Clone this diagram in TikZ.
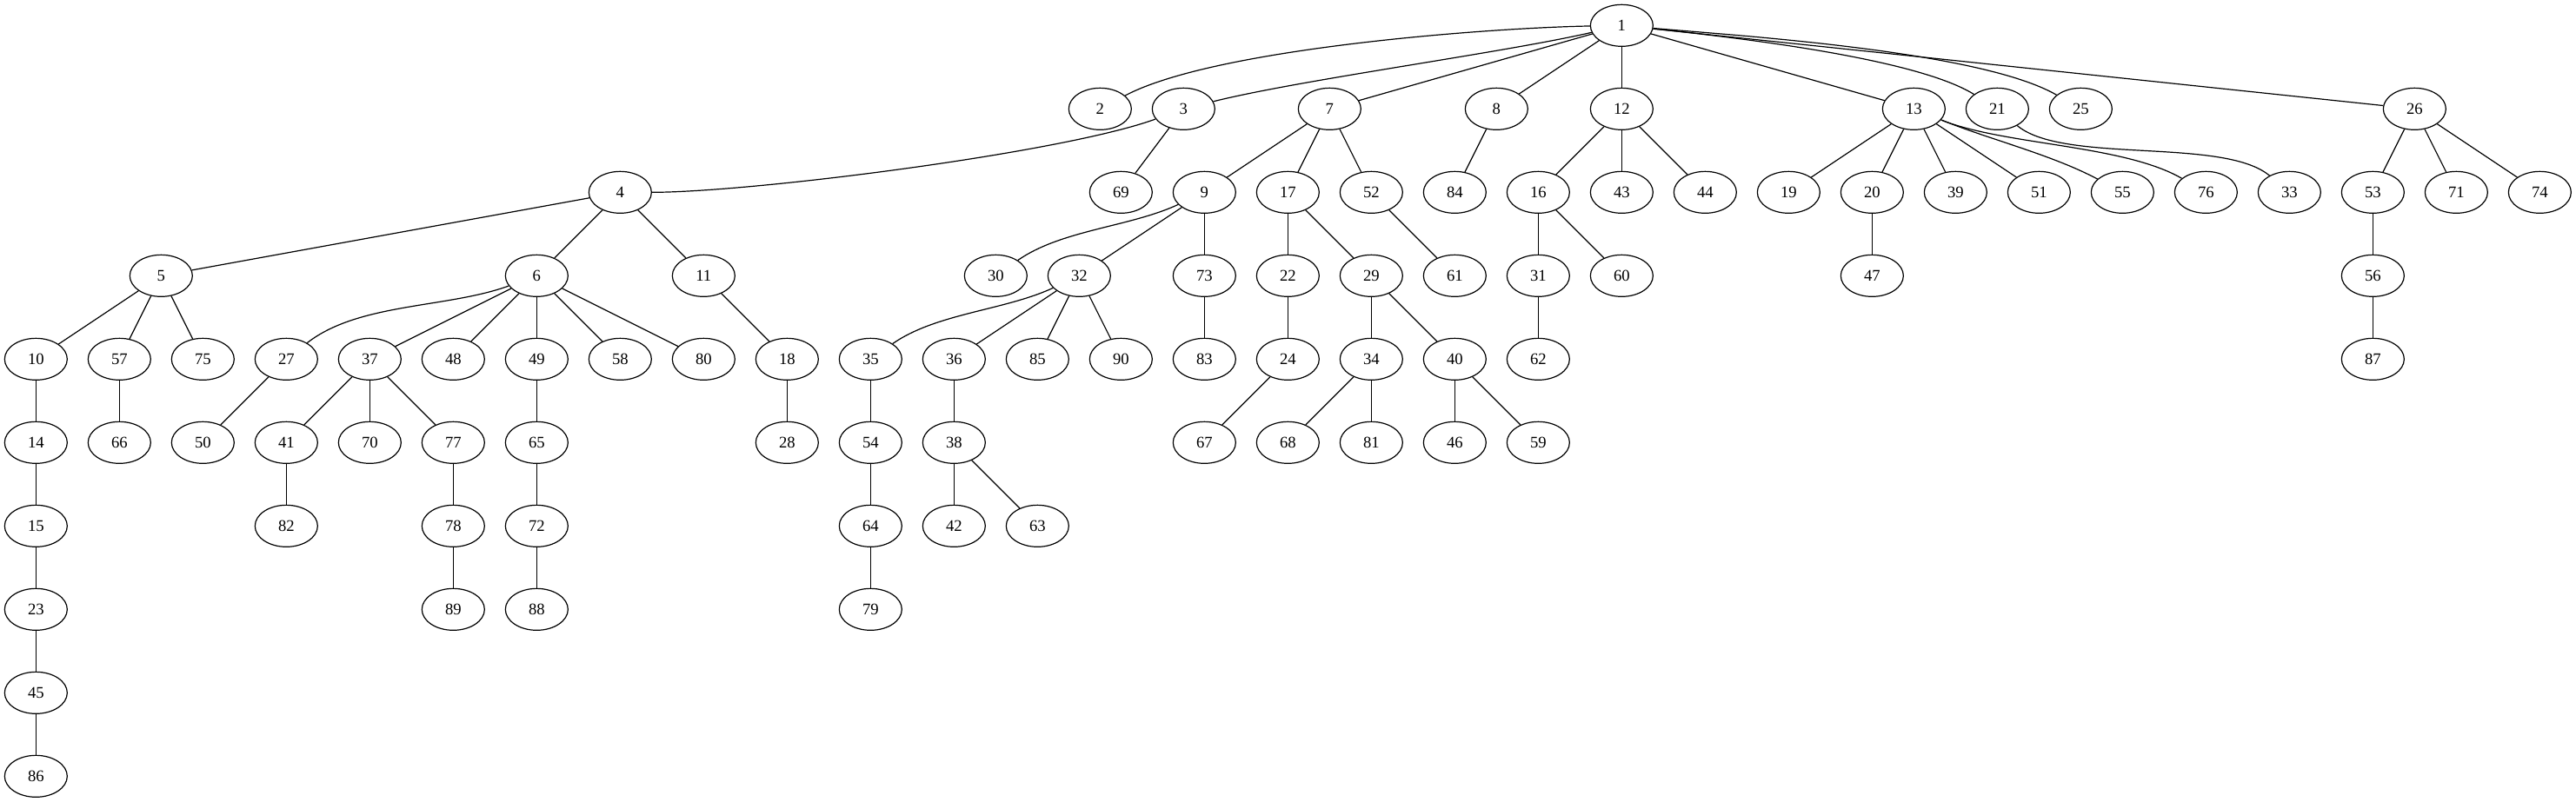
\documentclass[tikz,border=0pt]{standalone}
\usepackage{fontspec}
\setmainfont{Liberation Serif}
\usepackage{tikz}
\usetikzlibrary{shapes.geometric}

\begin{document}
\begin{tikzpicture}[x=1pt, y=1pt, line width=0.9pt,
  vertex/.style={draw, ellipse, minimum width=54pt, minimum height=36pt, inner sep=0pt, font=\fontsize{14}{16}\selectfont}]
  \useasboundingbox (0,0) rectangle (2222.25,-692.25);
  % Racine
  \node[vertex] (n1) at (1399,-22) {1};
  % Niveau 1
  \node[vertex] (n2) at (949,-94) {2};
  \node[vertex] (n3) at (1021,-94) {3};
  \node[vertex] (n7) at (1147,-94) {7};
  \node[vertex] (n8) at (1291,-94) {8};
  \node[vertex] (n12) at (1399,-94) {12};
  \node[vertex] (n13) at (1651,-94) {13};
  \node[vertex] (n21) at (1723,-94) {21};
  \node[vertex] (n25) at (1795,-94) {25};
  \node[vertex] (n26) at (2083,-94) {26};
  % Niveau 2
  \node[vertex] (n4) at (535,-166) {4};
  \node[vertex] (n69) at (967,-166) {69};
  \node[vertex] (n9) at (1039,-166) {9};
  \node[vertex] (n17) at (1111,-166) {17};
  \node[vertex] (n52) at (1183,-166) {52};
  \node[vertex] (n84) at (1255,-166) {84};
  \node[vertex] (n16) at (1327,-166) {16};
  \node[vertex] (n43) at (1399,-166) {43};
  \node[vertex] (n44) at (1471,-166) {44};
  \node[vertex] (n19) at (1543,-166) {19};
  \node[vertex] (n20) at (1615,-166) {20};
  \node[vertex] (n39) at (1687,-166) {39};
  \node[vertex] (n51) at (1759,-166) {51};
  \node[vertex] (n55) at (1831,-166) {55};
  \node[vertex] (n76) at (1903,-166) {76};
  \node[vertex] (n33) at (1975,-166) {33};
  \node[vertex] (n53) at (2047,-166) {53};
  \node[vertex] (n71) at (2119,-166) {71};
  \node[vertex] (n74) at (2191,-166) {74};
  % Niveau 3
  \node[vertex] (n5) at (139,-238) {5};
  \node[vertex] (n6) at (463,-238) {6};
  \node[vertex] (n11) at (607,-238) {11};
  \node[vertex] (n30) at (859,-238) {30};
  \node[vertex] (n32) at (931,-238) {32};
  \node[vertex] (n73) at (1039,-238) {73};
  \node[vertex] (n22) at (1111,-238) {22};
  \node[vertex] (n29) at (1183,-238) {29};
  \node[vertex] (n61) at (1255,-238) {61};
  \node[vertex] (n31) at (1327,-238) {31};
  \node[vertex] (n60) at (1399,-238) {60};
  \node[vertex] (n47) at (1615,-238) {47};
  \node[vertex] (n56) at (2047,-238) {56};
  % Niveau 4
  \node[vertex] (n10) at (31,-310) {10};
  \node[vertex] (n57) at (103,-310) {57};
  \node[vertex] (n75) at (175,-310) {75};
  \node[vertex] (n27) at (247,-310) {27};
  \node[vertex] (n37) at (319,-310) {37};
  \node[vertex] (n48) at (391,-310) {48};
  \node[vertex] (n49) at (463,-310) {49};
  \node[vertex] (n58) at (535,-310) {58};
  \node[vertex] (n80) at (607,-310) {80};
  \node[vertex] (n18) at (679,-310) {18};
  \node[vertex] (n35) at (751,-310) {35};
  \node[vertex] (n36) at (823,-310) {36};
  \node[vertex] (n85) at (895,-310) {85};
  \node[vertex] (n90) at (967,-310) {90};
  \node[vertex] (n83) at (1039,-310) {83};
  \node[vertex] (n24) at (1111,-310) {24};
  \node[vertex] (n34) at (1183,-310) {34};
  \node[vertex] (n40) at (1255,-310) {40};
  \node[vertex] (n62) at (1327,-310) {62};
  \node[vertex] (n87) at (2047,-310) {87};
  % Niveau 5
  \node[vertex] (n14) at (31,-382) {14};
  \node[vertex] (n66) at (103,-382) {66};
  \node[vertex] (n50) at (175,-382) {50};
  \node[vertex] (n41) at (247,-382) {41};
  \node[vertex] (n70) at (319,-382) {70};
  \node[vertex] (n77) at (391,-382) {77};
  \node[vertex] (n65) at (463,-382) {65};
  \node[vertex] (n28) at (679,-382) {28};
  \node[vertex] (n54) at (751,-382) {54};
  \node[vertex] (n38) at (823,-382) {38};
  \node[vertex] (n67) at (1039,-382) {67};
  \node[vertex] (n68) at (1111,-382) {68};
  \node[vertex] (n81) at (1183,-382) {81};
  \node[vertex] (n46) at (1255,-382) {46};
  \node[vertex] (n59) at (1327,-382) {59};
  % Niveau 6
  \node[vertex] (n15) at (31,-454) {15};
  \node[vertex] (n82) at (247,-454) {82};
  \node[vertex] (n78) at (391,-454) {78};
  \node[vertex] (n72) at (463,-454) {72};
  \node[vertex] (n64) at (751,-454) {64};
  \node[vertex] (n42) at (823,-454) {42};
  \node[vertex] (n63) at (895,-454) {63};
  % Niveaux 7 a 9
  \node[vertex] (n23) at (31,-526) {23};
  \node[vertex] (n89) at (391,-526) {89};
  \node[vertex] (n88) at (463,-526) {88};
  \node[vertex] (n79) at (751,-526) {79};
  \node[vertex] (n45) at (31,-598) {45};
  \node[vertex] (n86) at (31,-670) {86};
  % Aretes depuis 1
  \draw (n1) to[out=181, in=28, looseness=0.55] (n2);
  \draw (n1) to[out=193, in=14, looseness=0.6] (n3);
  \draw (n1) -- (n7);
  \draw (n1) -- (n8);
  \draw (n1) -- (n12);
  \draw (n1) -- (n13);
  \draw (n1) to[out=-6, in=148, looseness=0.55] (n21);
  \draw (n1) to[out=-5, in=150, looseness=0.55] (n25);
  \draw (n1) -- (n26);
  % Sous-arbre de 3
  \draw (n3) to[out=200, in=0, looseness=0.5] (n4);
  \draw (n3) -- (n69);
  \draw (n4) -- (n5);
  \draw (n4) -- (n6);
  \draw (n4) -- (n11);
  \draw (n5) -- (n10);
  \draw (n5) -- (n57);
  \draw (n5) -- (n75);
  \draw (n6) to[out=200, in=38, looseness=0.8] (n27);
  \draw (n6) -- (n37);
  \draw (n6) -- (n48);
  \draw (n6) -- (n49);
  \draw (n6) -- (n58);
  \draw (n6) -- (n80);
  \draw (n11) -- (n18);
  \draw (n10) -- (n14);
  \draw (n14) -- (n15);
  \draw (n15) -- (n23);
  \draw (n23) -- (n45);
  \draw (n45) -- (n86);
  \draw (n57) -- (n66);
  \draw (n27) -- (n50);
  \draw (n37) -- (n41);
  \draw (n37) -- (n70);
  \draw (n37) -- (n77);
  \draw (n41) -- (n82);
  \draw (n77) -- (n78);
  \draw (n78) -- (n89);
  \draw (n49) -- (n65);
  \draw (n65) -- (n72);
  \draw (n72) -- (n88);
  \draw (n18) -- (n28);
  % Sous-arbre de 7
  \draw (n7) -- (n9);
  \draw (n7) -- (n17);
  \draw (n7) -- (n52);
  \draw (n9) to[out=205, in=35, looseness=0.8] (n30);
  \draw (n9) -- (n32);
  \draw (n9) -- (n73);
  \draw (n32) to[out=205, in=35, looseness=0.8] (n35);
  \draw (n32) -- (n36);
  \draw (n32) -- (n85);
  \draw (n32) -- (n90);
  \draw (n35) -- (n54);
  \draw (n54) -- (n64);
  \draw (n64) -- (n79);
  \draw (n36) -- (n38);
  \draw (n38) -- (n42);
  \draw (n38) -- (n63);
  \draw (n73) -- (n83);
  \draw (n17) -- (n22);
  \draw (n17) -- (n29);
  \draw (n22) -- (n24);
  \draw (n24) -- (n67);
  \draw (n29) -- (n34);
  \draw (n29) -- (n40);
  \draw (n34) -- (n68);
  \draw (n34) -- (n81);
  \draw (n40) -- (n46);
  \draw (n40) -- (n59);
  \draw (n52) -- (n61);
  % Sous-arbres de 8 et 12
  \draw (n8) -- (n84);
  \draw (n12) -- (n16);
  \draw (n12) -- (n43);
  \draw (n12) -- (n44);
  \draw (n16) -- (n31);
  \draw (n16) -- (n60);
  \draw (n31) -- (n62);
  % Sous-arbres de 13, 21 et 26
  \draw (n13) -- (n19);
  \draw (n13) -- (n20);
  \draw (n13) -- (n39);
  \draw (n13) -- (n51);
  \draw (n13) to[out=-22, in=152, looseness=0.8] (n55);
  \draw (n13) to[out=-22, in=150, looseness=0.7] (n76);
  \draw (n20) -- (n47);
  \draw (n21) to[out=-40, in=140, looseness=0.6] (n33);
  \draw (n26) -- (n53);
  \draw (n26) -- (n71);
  \draw (n26) -- (n74);
  \draw (n53) -- (n56);
  \draw (n56) -- (n87);
\end{tikzpicture}
\end{document}
